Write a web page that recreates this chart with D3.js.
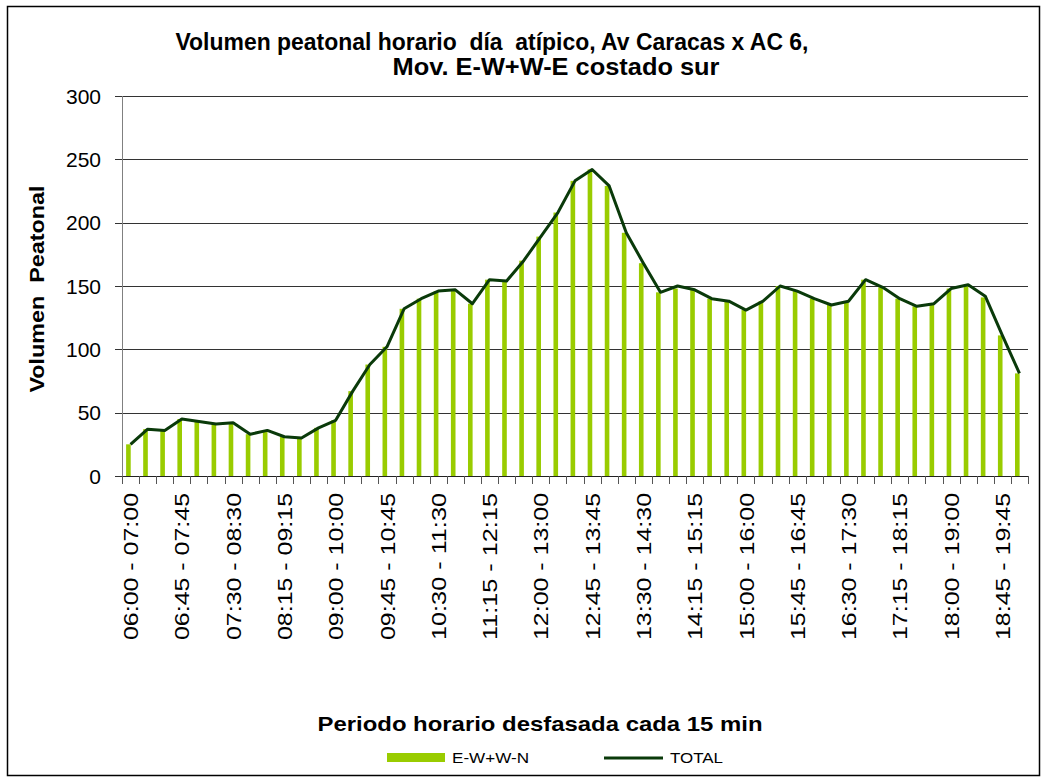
<!DOCTYPE html>
<html>
<head>
<meta charset="utf-8">
<script src="https://cdn.jsdelivr.net/npm/d3@7"></script>
<style>
body { margin: 0; background: #fff; }
svg { display: block; font-family: Arial, "Liberation Sans", sans-serif; }
svg text { white-space: pre; }
</style>
</head>
<body>
<svg width="1043" height="783"></svg>
<script>
// periodos horarios desfasados cada 15 min
var categories = [
"06:00 - 07:00","06:15 - 07:15","06:30 - 07:30","06:45 - 07:45","07:00 - 08:00","07:15 - 08:15",
"07:30 - 08:30","07:45 - 08:45","08:00 - 09:00","08:15 - 09:15","08:30 - 09:30","08:45 - 09:45",
"09:00 - 10:00","09:15 - 10:15","09:30 - 10:30","09:45 - 10:45","10:00 - 11:00","10:15 - 11:15",
"10:30 - 11:30","10:45 - 11:45","11:00 - 12:00","11:15 - 12:15","11:30 - 12:30","11:45 - 12:45",
"12:00 - 13:00","12:15 - 13:15","12:30 - 13:30","12:45 - 13:45","13:00 - 14:00","13:15 - 14:15",
"13:30 - 14:30","13:45 - 14:45","14:00 - 15:00","14:15 - 15:15","14:30 - 15:30","14:45 - 15:45",
"15:00 - 16:00","15:15 - 16:15","15:30 - 16:30","15:45 - 16:45","16:00 - 17:00","16:15 - 17:15",
"16:30 - 17:30","16:45 - 17:45","17:00 - 18:00","17:15 - 18:15","17:30 - 18:30","17:45 - 18:45",
"18:00 - 19:00","18:15 - 19:15","18:30 - 19:30","18:45 - 19:45","19:00 - 20:00"
];

var ewwn = [25,37,36,45,43,41,42,33,36,31,30,38,44,67,88,102,132,140,146,147,136,155,154,170,189,208,233,242,229,192,168,145,148,147,140,138,131,138,150,146,140,135,138,155,149,140,134,136,148,151,141,111,81];
var total = [25,37,36,45,43,41,42,33,36,31,30,38,44,67,88,102,132,140,146,147,136,155,154,170,189,208,233,242,229,192,168,145,150,147,140,138,131,138,150,146,140,135,138,155,149,140,134,136,148,151,142,111,81];

var yTicks = [0,50,100,150,200,250,300];

var svg = d3.select("svg");
var plotLeft = 122, plotRight = 1028, plotTop = 96, plotBottom = 476;

var x = d3.scaleBand().domain(categories).range([plotLeft, plotRight]).padding(0);
var y = d3.scaleLinear().domain([0, 300]).range([plotBottom, plotTop]);
var bw = x.bandwidth();

// marco
svg.append("rect")
  .attr("x", 7.5).attr("y", 6.5).attr("width", 1032).attr("height", 769)
  .attr("fill", "none").attr("stroke", "#000").attr("stroke-width", 1.5);

// titulo
svg.append("text").attr("x", 492).attr("y", 50).attr("text-anchor", "middle")
  .attr("font-size", 23).attr("font-weight", "bold")
  .attr("textLength", 633).attr("lengthAdjust", "spacingAndGlyphs")
  .text("Volumen peatonal horario  día  atípico, Av Caracas x AC 6,");
svg.append("text").attr("x", 556).attr("y", 75).attr("text-anchor", "middle")
  .attr("font-size", 23).attr("font-weight", "bold")
  .attr("textLength", 327).attr("lengthAdjust", "spacingAndGlyphs")
  .text("Mov. E-W+W-E costado sur");

// grilla
svg.append("g").selectAll("line").data(yTicks.filter(function(d){ return d > 0; }))
  .enter().append("line")
  .attr("x1", plotLeft).attr("x2", plotRight)
  .attr("y1", function(d){ return Math.round(y(d)) + 0.5; })
  .attr("y2", function(d){ return Math.round(y(d)) + 0.5; })
  .attr("stroke", "#333").attr("stroke-width", 1);

// eje y
svg.append("line").attr("x1", plotLeft + 0.5).attr("x2", plotLeft + 0.5).attr("y1", plotTop).attr("y2", plotBottom)
  .attr("stroke", "#808080");
svg.append("g").selectAll("line").data(yTicks).enter().append("line")
  .attr("x1", plotLeft - 7).attr("x2", plotLeft)
  .attr("y1", function(d){ return Math.round(y(d)) + 0.5; })
  .attr("y2", function(d){ return Math.round(y(d)) + 0.5; })
  .attr("stroke", "#333");
svg.append("g").selectAll("text").data(yTicks).enter().append("text")
  .attr("x", 101).attr("y", function(d){ return y(d); }).attr("dy", "0.36em")
  .attr("text-anchor", "end").attr("font-size", 21)
  .text(function(d){ return d; });

svg.append("text")
  .attr("transform", "translate(44,289) rotate(-90)")
  .attr("text-anchor", "middle").attr("font-size", 20).attr("font-weight", "bold")
  .attr("textLength", 207).attr("lengthAdjust", "spacingAndGlyphs")
  .text("Volumen  Peatonal");

// barras
svg.append("g").selectAll("rect").data(ewwn).enter().append("rect")
  .attr("x", function(d, i){ return x(categories[i]) + bw * 0.24; })
  .attr("width", bw * 0.27)
  .attr("y", function(d){ return y(d); })
  .attr("height", function(d){ return plotBottom - y(d); })
  .attr("fill", "#99cc00");

// eje x
svg.append("line").attr("x1", plotLeft).attr("x2", plotRight).attr("y1", plotBottom + 0.5).attr("y2", plotBottom + 0.5)
  .attr("stroke", "#222");
svg.append("g").selectAll("line").data(d3.range(categories.length + 1)).enter().append("line")
  .attr("x1", function(i){ return Math.round(plotLeft + i * bw) + 0.5; })
  .attr("x2", function(i){ return Math.round(plotLeft + i * bw) + 0.5; })
  .attr("y1", plotBottom).attr("y2", plotBottom + 8)
  .attr("stroke", "#555");

svg.append("g").selectAll("text")
  .data(categories.filter(function(c, i){ return i % 3 == 0; }))
  .enter().append("text")
  .attr("transform", function(c){ return "translate(" + (x(c) + bw / 2) + ",493) rotate(-90)"; })
  .attr("dy", "0.36em").attr("text-anchor", "end").attr("font-size", 21)
  .attr("textLength", 147).attr("lengthAdjust", "spacingAndGlyphs")
  .text(function(c){ return c; });

// linea total
var line = d3.line()
  .x(function(d, i){ return x(categories[i]) + bw / 2; })
  .y(function(d){ return y(d); });
svg.append("path").datum(total).attr("d", line)
  .attr("fill", "none").attr("stroke", "#0a3a0a").attr("stroke-width", 3)
  .attr("stroke-linejoin", "round");

// titulo eje x
svg.append("text").attr("x", 540).attr("y", 731).attr("text-anchor", "middle")
  .attr("font-size", 21).attr("font-weight", "bold")
  .attr("textLength", 445).attr("lengthAdjust", "spacingAndGlyphs")
  .text("Periodo horario desfasada cada 15 min");

// leyenda
svg.append("rect").attr("x", 387).attr("y", 753).attr("width", 58).attr("height", 9).attr("fill", "#99cc00");
svg.append("text").attr("x", 452).attr("y", 763).attr("font-size", 15)
  .attr("textLength", 77).attr("lengthAdjust", "spacingAndGlyphs").text("E-W+W-N");
svg.append("line").attr("x1", 604).attr("x2", 663).attr("y1", 758).attr("y2", 758)
  .attr("stroke", "#0a3a0a").attr("stroke-width", 3);
svg.append("text").attr("x", 670).attr("y", 763).attr("font-size", 15)
  .attr("textLength", 53).attr("lengthAdjust", "spacingAndGlyphs").text("TOTAL");
</script>
</body>
</html>
